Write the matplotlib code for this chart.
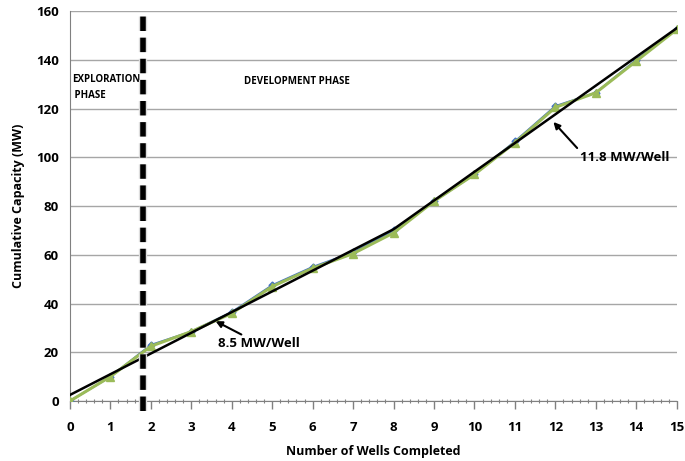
import numpy as np
import matplotlib
matplotlib.use('Agg')
import matplotlib.pyplot as plt
from matplotlib.ticker import MultipleLocator
import matplotlib.patheffects as pe

# data
wells = [0, 1, 2, 3, 4, 5, 6, 7, 8, 9, 10, 11, 12, 13, 14, 15]
cap_blue = [0, 10, 23, 28.5, 36.5, 47.5, 55, 61, 70, 82, 93, 106.5, 121, 126.5, 140, 152.5]
cap_green = [0, 10, 22.5, 28.5, 36, 47, 54.5, 60.5, 69, 82, 93, 106, 120.5, 126.5, 139.5, 152.5]
# piecewise trend (8.5 MW/well, then 11.8 MW/well)
trend_x = [0, 8, 15]
trend_y = [2.5, 70.5, 153]
phase_split = 1.8

plt.rcParams['font.family'] = ['Open Sans', 'DejaVu Sans']
plt.rcParams['font.weight'] = 'bold'

fig = plt.figure(figsize=(6.85, 4.61), dpi=100)
ax = fig.add_axes([0.102, 0.130, 0.886, 0.846])

ax.plot(wells, cap_blue, '-', color='#4472C4', lw=1.5, marker='D', ms=3.5, zorder=3)
ax.plot(wells, cap_green, '-', color='#9BBB59', lw=2.2, marker='^', ms=6, zorder=4)
ax.plot(trend_x, trend_y, '-', color='black', lw=1.8, zorder=5)

ax.axvline(phase_split, color='black', lw=4, ls=(0, (2.6, 1.2)), zorder=6,
           clip_on=False, ymin=-0.025, ymax=1.0,
           path_effects=[pe.Stroke(linewidth=6, foreground='#dddddd'), pe.Normal()])

ax.text(0.05, 134, 'EXPLORATION\n PHASE', fontsize=7, fontweight='bold', va='top',
        linespacing=1.6)
ax.text(4.3, 131, 'DEVELOPMENT PHASE', fontsize=7, fontweight='bold', va='center')

ax.annotate('8.5 MW/Well', xy=(3.6, 32.8), xytext=(3.67, 23.5), fontsize=9.5,
            fontweight='bold', va='center',
            arrowprops=dict(arrowstyle='-|>', color='black', lw=1.5, shrinkA=0, shrinkB=0))
ax.annotate('11.8 MW/Well', xy=(11.95, 114.5), xytext=(12.6, 100), fontsize=9.5,
            fontweight='bold', va='center',
            arrowprops=dict(arrowstyle='-|>', color='black', lw=1.5, shrinkA=0, shrinkB=0,
                            relpos=(0.0, 1.0)))

ax.set_xlim(0, 15)
ax.set_ylim(0, 160)
ax.xaxis.set_major_locator(MultipleLocator(1))
ax.xaxis.set_minor_locator(MultipleLocator(0.2))
ax.yaxis.set_major_locator(MultipleLocator(20))
ax.tick_params(axis='x', which='major', length=6, width=1, color='#808080', labelsize=9.5, pad=8)
ax.tick_params(axis='x', which='minor', length=3.5, width=0.8, color='#808080', direction='inout')
ax.tick_params(axis='y', length=0, labelsize=9.5, pad=8)
for lab in ax.get_xticklabels() + ax.get_yticklabels():
    lab.set_fontweight('bold')

ax.grid(axis='y', color='#a6a6a6', lw=1)
ax.set_axisbelow(True)
for s in ['top', 'right']:
    ax.spines[s].set_visible(False)
ax.spines['left'].set_color('#808080')
ax.spines['bottom'].set_color('#808080')

ax.set_xlabel('Number of Wells Completed', fontsize=9, fontweight='bold', labelpad=8)
ax.set_ylabel('Cumulative Capacity (MW)', fontsize=9, fontweight='bold', labelpad=8)

fig.savefig('out.png', dpi=100)
